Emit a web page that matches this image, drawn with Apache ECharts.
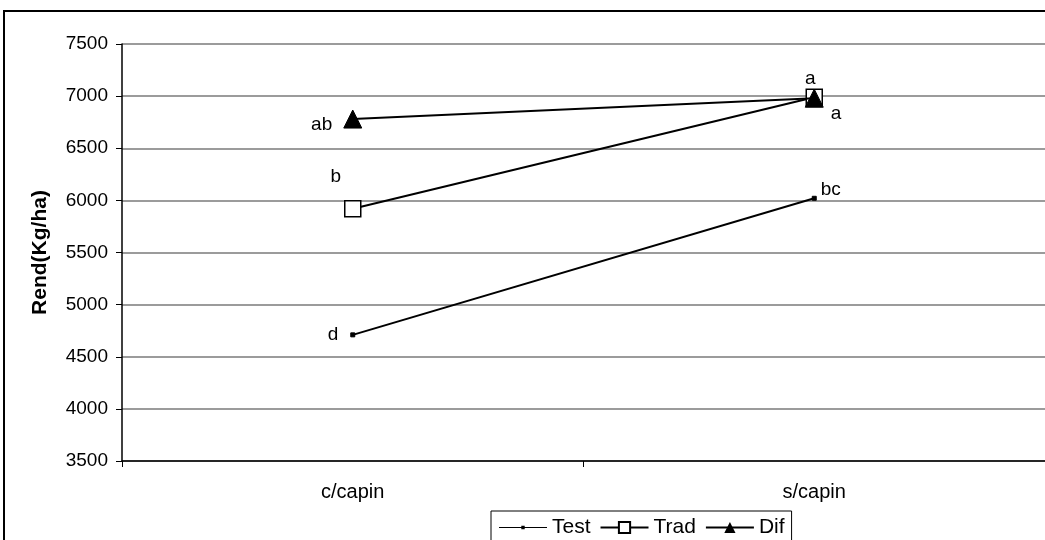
<!DOCTYPE html>
<html>
<head>
<meta charset="utf-8">
<script src="https://cdn.jsdelivr.net/npm/echarts@6/dist/echarts.min.js"></script>
<style>
html,body{margin:0;padding:0;background:#fff;}
#chart{width:1045px;height:540px;}
</style>
</head>
<body>
<div id="chart"></div>
<script>
var categories = ['c/capin', 's/capin'];
var testValues = [4710, 6020];
var tradValues = [5920, 6990];
var difValues = [6780, 6980];
var testLabels = ['d', 'bc'];
var tradLabels = ['b', 'a'];
var difLabels = ['ab', 'a'];
var seriesNames = ['Test', 'Trad', 'Dif'];

var FONT = '"Liberation Sans", Arial, sans-serif';

function makeData(values, labels, specs) {
  return values.map(function (v, i) {
    var lab = Object.assign({
      show: true,
      formatter: labels[i],
      color: '#000',
      fontSize: 19,
      fontFamily: FONT
    }, specs[i]);
    return { value: v, label: lab };
  });
}

var chart = echarts.init(document.getElementById('chart'), null, { renderer: 'canvas' });
var option = {
  animation: false,
  backgroundColor: '#fff',
  textStyle: { fontFamily: FONT },
  graphic: [{
    type: 'rect',
    shape: { x: 4, y: 11, width: 1100, height: 600 },
    style: { fill: 'none', stroke: '#000', lineWidth: 2 },
    z: -1
  }],
  grid: { left: 122, top: 44, bottom: 79, right: -3, containLabel: false },
  legend: {
    left: 491,
    top: 511,
    padding: [6, 7, 12, 8],
    itemGap: 9,
    itemWidth: 48,
    itemHeight: 14,
    borderColor: '#000',
    borderWidth: 1,
    backgroundColor: '#fff',
    textStyle: { color: '#000', fontSize: 21, fontFamily: FONT },
    data: [
      { name: seriesNames[0], icon: 'path://M0,6.4L48,6.4L48,7.6L0,7.6Z M22.3,5.3L25.7,5.3L25.7,8.7L22.3,8.7Z' },
      { name: seriesNames[1] },
      { name: seriesNames[2] }
    ]
  },
  xAxis: {
    type: 'category',
    data: categories,
    boundaryGap: true,
    axisLine: { lineStyle: { color: '#000', width: 1.5 } },
    axisTick: { show: true, length: 6, lineStyle: { color: '#000' } },
    axisLabel: { color: '#000', fontSize: 20, fontFamily: FONT, margin: 21 }
  },
  yAxis: {
    type: 'value',
    min: 3500,
    max: 7500,
    interval: 500,
    name: 'Rend(Kg/ha)',
    nameLocation: 'middle',
    nameGap: 71,
    nameTextStyle: { color: '#000', fontSize: 21, fontWeight: 'bold', fontFamily: FONT },
    axisLine: { show: true, lineStyle: { color: '#000', width: 1.5 } },
    axisTick: { show: true, length: 6, lineStyle: { color: '#000' } },
    axisLabel: {
      color: '#000', fontSize: 19, fontFamily: FONT, margin: 14,
      formatter: function (v) { return String(v); }
    },
    splitLine: { show: true, lineStyle: { color: '#7a7a7a', width: 1.5 } }
  },
  series: [
    {
      name: seriesNames[0],
      type: 'line',
      symbol: 'rect',
      symbolSize: 4,
      lineStyle: { color: '#000', width: 2 },
      itemStyle: { color: '#000', borderColor: '#000' },
      data: makeData(testValues, testLabels, [
        { position: 'left', distance: 12 },
        { position: 'right', distance: 5, offset: [-1, -9] }
      ]),
      z: 2
    },
    {
      name: seriesNames[1],
      type: 'line',
      symbol: 'rect',
      symbolSize: 16,
      lineStyle: { color: '#000', width: 2 },
      itemStyle: { color: '#fff', borderColor: '#000', borderWidth: 1.5 },
      data: makeData(tradValues, tradLabels, [
        { position: 'top', distance: 5, offset: [-17, -9] },
        { position: 'top', distance: 3, offset: [-4, 3] }
      ]),
      z: 3
    },
    {
      name: seriesNames[2],
      type: 'line',
      symbol: 'triangle',
      symbolSize: 18,
      lineStyle: { color: '#000', width: 2 },
      itemStyle: { color: '#000', borderColor: '#000' },
      data: makeData(difValues, difLabels, [
        { position: 'left', distance: 12, offset: [1, 6] },
        { position: 'right', distance: 5, offset: [2, 16] }
      ]),
      z: 4
    }
  ]
};
chart.setOption(option);
</script>
</body>
</html>
